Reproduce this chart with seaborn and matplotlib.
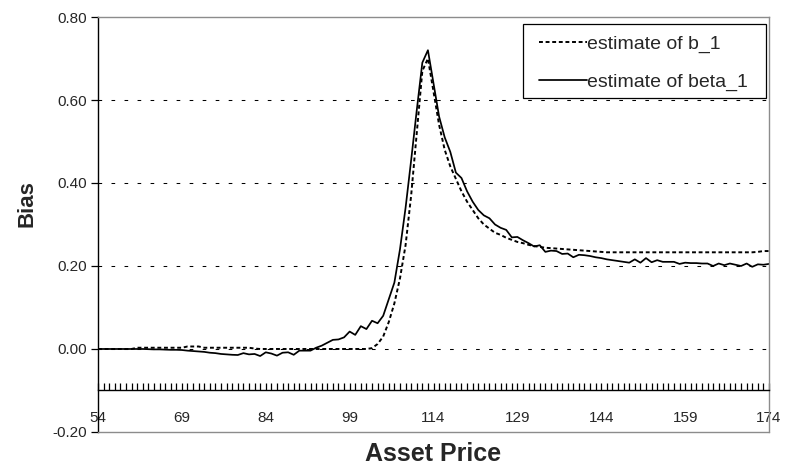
import matplotlib
matplotlib.use("Agg")
import matplotlib.pyplot as plt
import pandas as pd
import numpy as np
import seaborn as sns
from matplotlib.patches import Rectangle
from matplotlib.ticker import FixedLocator, MultipleLocator, FormatStrFormatter

# asset price grid (one point per unit)
price = list(range(54, 175))

# estimate of b_1 (dashed)
b_1 = [0, 0, 0, 0, 0, 0, 0, 0.003, 0.003, 0.003,
       0.003, 0.003, 0.003, 0.003, 0.003, 0.003, 0.006, 0.006, 0.006, 0.003,
       0.003, 0.003, 0.003, 0.003, 0.003, 0.003, 0.003, 0.003, 0.001, 0.0,
       0, 0, 0, 0, 0, 0, 0, 0, 0, 0,
       0, 0, 0, 0, 0, 0, 0, 0, 0, 0.002,
       0.012, 0.03, 0.065, 0.11, 0.17, 0.25, 0.37, 0.52, 0.67, 0.70,
       0.62, 0.54, 0.48, 0.44, 0.41, 0.38, 0.355, 0.335, 0.315, 0.30,
       0.29, 0.28, 0.275, 0.268, 0.263, 0.258, 0.255, 0.251, 0.248, 0.246,
       0.244, 0.243, 0.242, 0.241, 0.240, 0.239, 0.238, 0.237, 0.236, 0.235,
       0.234, 0.233, 0.233, 0.233, 0.233, 0.233, 0.233, 0.233, 0.233, 0.233,
       0.233, 0.233, 0.233, 0.233, 0.233, 0.233, 0.233, 0.233, 0.233, 0.233,
       0.233, 0.233, 0.233, 0.233, 0.233, 0.233, 0.233, 0.233, 0.234, 0.236,
       0.236]

# estimate of beta_1 (solid)
beta_1 = [0, 0, 0, 0, 0, 0, 0, 0, 0, -0.0005,
          -0.001, -0.001, -0.0015, -0.002, -0.002, -0.0025, -0.004, -0.005, -0.006, -0.007,
          -0.009, -0.010, -0.012, -0.013, -0.014, -0.0145, -0.010, -0.013, -0.012, -0.017,
          -0.008, -0.011, -0.016, -0.009, -0.008, -0.014, -0.004, -0.004, -0.004, 0.003,
          0.008, 0.015, 0.022, 0.023, 0.028, 0.042, 0.034, 0.055, 0.048, 0.068,
          0.062, 0.08, 0.12, 0.16, 0.24, 0.34, 0.455, 0.575, 0.69, 0.72,
          0.64, 0.56, 0.51, 0.475, 0.425, 0.412, 0.38, 0.355, 0.335, 0.322,
          0.315, 0.30, 0.292, 0.287, 0.269, 0.27, 0.262, 0.255, 0.247, 0.25,
          0.234, 0.237, 0.236, 0.229, 0.230, 0.221, 0.227, 0.226, 0.224, 0.221,
          0.219, 0.216, 0.214, 0.212, 0.21, 0.208, 0.216, 0.208, 0.219, 0.209,
          0.214, 0.21, 0.21, 0.21, 0.205, 0.208, 0.207, 0.207, 0.206, 0.206,
          0.200, 0.206, 0.202, 0.206, 0.203, 0.200, 0.206, 0.198, 0.204, 0.203,
          0.205]

x_labels = [54, 69, 84, 99, 114, 129, 144, 159, 174]
y_ticks = [-0.2, 0.0, 0.2, 0.4, 0.6, 0.8]
grid_y = [0.0, 0.2, 0.4, 0.6]

df = pd.DataFrame({"price": price, "b_1": b_1, "beta_1": beta_1})

sns.set_style("white")
plt.rcParams["font.family"] = ["Liberation Sans", "DejaVu Sans"]

fig, ax = plt.subplots(figsize=(7.86, 4.70), dpi=100)
fig.subplots_adjust(left=0.1247, right=0.9784, top=0.9638, bottom=0.0809)

# dotted gridlines
for g in grid_y:
    ax.axhline(g, color="black", lw=0.75, linestyle=(0, (3.5, 9)), zorder=0)

sns.lineplot(data=df, x="price", y="b_1", ax=ax, color="black", lw=1.4,
             linestyle=(0, (2.0, 1.4)), label="estimate of b_1")
sns.lineplot(data=df, x="price", y="beta_1", ax=ax, color="black", lw=1.25,
             label="estimate of beta_1")

ax.set_xlim(54, 174)
ax.set_ylim(-0.2, 0.8)

# x axis crosses at -0.10
ax.spines["bottom"].set_position(("data", -0.1))
ax.spines["bottom"].set_color("black")
ax.spines["bottom"].set_linewidth(1)
ax.spines["left"].set_color("black")
ax.spines["left"].set_linewidth(1)
for s in ["top", "right"]:
    ax.spines[s].set_visible(True)
    ax.spines[s].set_color("#8c8c8c")
    ax.spines[s].set_linewidth(1)
ax.axhline(-0.2, color="#8c8c8c", lw=1, clip_on=False, zorder=5)

ax.xaxis.set_major_locator(FixedLocator(x_labels))
ax.xaxis.set_minor_locator(MultipleLocator(1))
ax.tick_params(axis="x", which="both", direction="in", length=5, width=0.9,
               color="black", pad=15, labelsize=11, bottom=True)
ax.set_yticks(y_ticks)
ax.yaxis.set_major_formatter(FormatStrFormatter("%.2f"))
ax.tick_params(axis="y", direction="out", length=5, width=0.9, color="black",
               pad=3, labelsize=11, left=True)

ax.set_xlabel("Asset Price", fontsize=18, fontweight="bold")
ax.set_ylabel("Bias", fontsize=16, fontweight="bold")
ax.xaxis.set_label_coords(0.5, -0.025)
ax.xaxis.label.set_va("top")
ax.yaxis.set_label_coords(-0.09, 0.55)

# legend box (Excel style: wider side padding than top/bottom)
ax.add_patch(Rectangle((0.6334, 0.8048), 0.3621, 0.1783, transform=ax.transAxes,
                       facecolor="white", edgecolor="black", lw=0.9, zorder=6))
leg = ax.legend(loc="upper left", bbox_to_anchor=(0.657, 0.957), frameon=False,
                fontsize=14, handlelength=2.45, handletextpad=0.05, borderpad=0,
                labelspacing=1.05, borderaxespad=0)
leg.set_zorder(7)

plt.savefig("out.png", dpi=100)
